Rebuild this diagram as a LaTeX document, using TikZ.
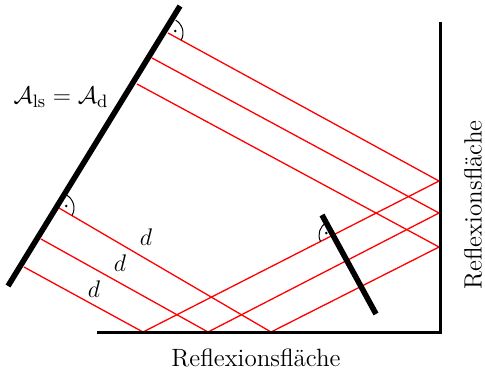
\documentclass[tikz,border=0pt]{standalone}
\usepackage{tikz}
\usetikzlibrary{calc}
\usepackage{amsmath,amssymb}
\definecolor{cray}{HTML}{FF0000}
\definecolor{cink}{HTML}{000000}
\tikzset{
  mirror/.style={cink, line width=2.8pt},
  wall/.style={cink, line width=1.5pt, line join=miter},
  ray/.style={cray, line width=0.65pt, line join=miter},
  rangle/.style={cink, line width=0.5pt},
}
\begin{document}
\begin{tikzpicture}[x=0.5pt, y=0.5pt, font=\fontsize{12.5}{15}\selectfont]
\useasboundingbox (0,0) rectangle (485,372);
%% ------------------------------------------------------------------ points
% the big mirror and the small one
\coordinate (ml1) at (8,86);
\coordinate (ml2) at (180,366);
\coordinate (ms1) at (322,157);
\coordinate (ms2) at (376,58);
% the corner of the two reflecting walls
\coordinate (wb) at (97,40);
\coordinate (wc) at (440,40);
\coordinate (wt) at (440,350);
% the three rays: start, right wall, bottom wall, end
\coordinate (s1) at (168,339); \coordinate (r1) at (439,191);
\coordinate (b1) at (143,40);  \coordinate (e1) at (24,105);
\coordinate (s2) at (152,314); \coordinate (r2) at (439,159);
\coordinate (b2) at (208,40);  \coordinate (e2) at (41,133);
\coordinate (s3) at (137,288); \coordinate (r3) at (439,125);
\coordinate (b3) at (271,40);  \coordinate (e3) at (59,164);
%% ------------------------------------------------------------------ rays
\foreach \i in {1,2,3}
  \draw[ray] (s\i) -- (r\i) -- (b\i) -- (e\i);
%% ------------------------------------------------------------------ mirrors and walls
\draw[wall] (wb) -- (wc) -- (wt);
\draw[mirror] (ml1) -- (ml2);
\draw[mirror] (ms1) -- (ms2);
% right angles, with the dot
\draw[rangle] ($(s1)+(-29:15)$) arc[start angle=-29, end angle=59, radius=15];
\fill[cink] ($(s1)+(15:7.5)$) circle (1.4);
\draw[rangle] ($(e3)+(-30:15)$) arc[start angle=-30, end angle=59, radius=15];
\fill[cink] ($(e3)+(15:7.5)$) circle (1.4);
\coordinate (x1) at (intersection of r1--b1 and ms1--ms2);
\draw[rangle] ($(x1)+(118:14)$) arc[start angle=118, end angle=207, radius=14];
\fill[cink] ($(x1)+(163:7)$) circle (1.4);
%% ------------------------------------------------------------------ labels
\node (area) at (61,275) {$\mathcal{A}_{\mathrm{ls}} = \mathcal{A}_{\mathrm{d}}$};
\node (d1) at (146,135) {$d$};
\node (d2) at (120,109) {$d$};
\node (d3) at (94,83) {$d$};
\node (floor) at (256,14) {Reflexionsfläche};
\node[rotate=90, inner sep=0pt] (side) at (473,167) {Reflexionsfläche};
\end{tikzpicture}
\end{document}
